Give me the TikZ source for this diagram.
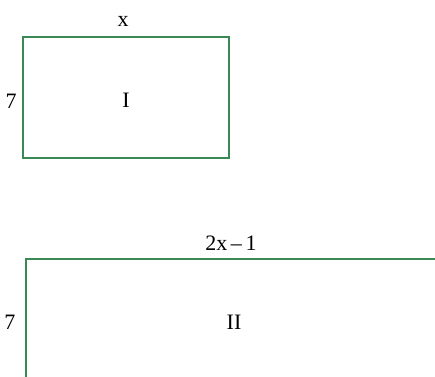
\documentclass[tikz,border=0pt]{standalone}
\usepackage{fontspec}
\setmainfont{Liberation Serif}
\definecolor{boxgreen}{RGB}{58,136,84}
\begin{document}
\begin{tikzpicture}[x=1pt,y=-1pt,
  box/.style={draw=boxgreen,line width=2.6pt},
  lbl/.style={font=\fontsize{22}{26}\selectfont,text=black,inner sep=0pt}]
\useasboundingbox (0,0) rectangle (435,376);
\clip (0,0) rectangle (435,376);
\fill[white] (0,0) rectangle (435,376);
\draw[box] (23,37) rectangle (229,158);
\node[lbl] (one) at (126,100) {I};
\node[lbl] (w1) at (123,21) {x};
\node[lbl] (h1) at (11,101) {7};
\draw[box] (26,259) rectangle (450,395);
\node[lbl] (two) at (234,322) {II};
\node[lbl] (w2) at (231,243) {2x\,–\,1};
\node[lbl] (h2) at (10,322) {7};
\end{tikzpicture}
\end{document}
